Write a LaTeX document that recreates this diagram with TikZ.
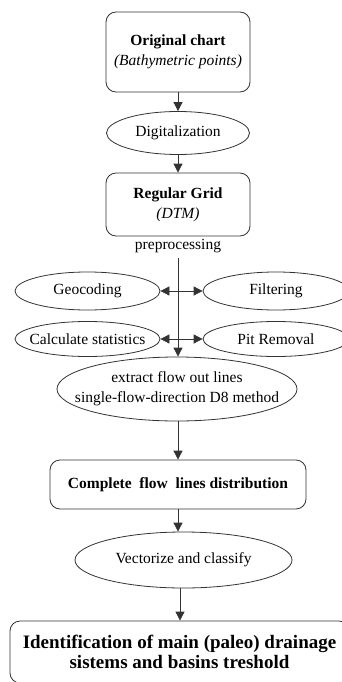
\documentclass[tikz,border=0pt]{standalone}
\usepackage{fontspec}
\setmainfont{Liberation Serif}
\usetikzlibrary{shapes.geometric,arrows.meta}
\begin{document}
\begin{tikzpicture}[x=1pt,y=-1pt,
 every node/.style={font=\fontsize{15.5}{20}\selectfont, inner sep=0pt, align=center},
 rbox/.style={draw=black!80, line width=0.8pt, rounded corners=10pt, rectangle},
 ell/.style={draw=black!80, line width=0.8pt, ellipse},
 arr/.style={draw=black!80, line width=0.8pt, -{Triangle[length=9pt,width=9pt]}},
 darr/.style={draw=black!80, line width=0.8pt, {Triangle[length=9pt,width=9pt]}-{Triangle[length=9pt,width=9pt]}}]
\useasboundingbox (0,0) rectangle (342,682);
\fill[white] (0,0) rectangle (342,682);
\node[rbox, minimum width=144pt, minimum height=80pt] (orig) at (178,52) {\textbf{Original chart}\\\textit{(Bathymetric points)}};
\node[ell, minimum width=143pt, minimum height=43pt, label=center:Digitalization] (dig) at (178,133) {};
\node[rbox, minimum width=144pt, minimum height=63pt] (grid) at (178,204.5) {\textbf{Regular Grid}\\\textit{(DTM)}};
\node (prep) at (178,246) {preprocessing};
\coordinate (ps) at (178,258);
\node[ell, minimum width=145pt, minimum height=38pt, label=center:Geocoding] (geo) at (87.5,291) {};
\node[ell, minimum width=146pt, minimum height=38pt, label=center:Filtering] (filt) at (276,291) {};
\node[ell, minimum width=145pt, minimum height=35pt, label=center:Calculate statistics] (calc) at (87.5,339) {};
\node[ell, minimum width=146pt, minimum height=35pt, label=center:Pit Removal] (pit) at (276,339) {};
\node[ell, minimum width=240pt, minimum height=64pt, label={center:extract flow out lines\\single-flow-direction D8 method}] (ext) at (177,389) {};
\node[rbox, minimum width=256pt, minimum height=49pt] (comp) at (178,484.5) {\textbf{Complete\ \ flow\ \ lines distribution}};
\node[ell, minimum width=217pt, minimum height=56pt, label=center:Vectorize and classify] (vec) at (183.5,560) {};
\node[rbox, minimum width=339pt, minimum height=62pt, font=\fontsize{19}{20}\selectfont] (ident) at (179.5,652) {\textbf{Identification of main (paleo) drainage}\\\textbf{sistems and basins treshold}};
\draw[arr] (orig) -- (dig);
\draw[arr] (dig) -- (grid);
\draw[arr] (ps) -- (ps |- ext.north);
\draw[darr] (geo.east) -- (filt.west);
\draw[darr] (calc.east) -- (pit.west);
\draw[arr] (ext.south -| comp.north) -- (comp.north);
\draw[arr] (comp.south) -- (comp.south |- vec.north);
\draw[arr] (vec.south -| 180,0) -- (ident.north -| 180,0);
\end{tikzpicture}
\end{document}
